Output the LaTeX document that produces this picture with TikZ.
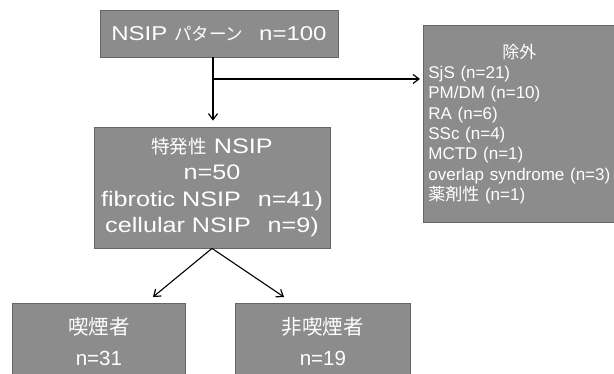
\documentclass[tikz,border=0pt]{standalone}
\usepackage{fontspec}
\setmainfont{Liberation Sans}
\newfontfamily\wide{Liberation Sans}[FakeStretch=1.2]
\newfontfamily\jp{Noto Sans CJK JP}
\usetikzlibrary{arrows.meta}
\definecolor{boxgray}{HTML}{8C8C8C}
\definecolor{boxedge}{HTML}{666666}
\begin{document}
\begin{tikzpicture}[x=1pt,y=-1pt,
  box/.style={draw=boxedge, line width=0.8pt, fill=boxgray, text=white, inner sep=0pt, align=center},
  arr/.style={-{Straight Barb[length=6pt,width=9pt,line width=1.2pt]}, line width=1.1pt, black}]
\useasboundingbox (0,0) rectangle (614,374);
\fill[white] (0,0) rectangle (614,374);

\node[box, minimum width=238pt, minimum height=47pt, font=\fontsize{20}{24}\wide]
  (top) at (219,33.5) {NSIP {\jp\fontsize{17.5}{24}\selectfont パターン}\hspace{0.8em}n=100};

\node[box, minimum width=236pt, minimum height=121pt, font=\fontsize{21}{26.5}\wide]
  (mid) at (212,187.5) {{\jp\fontsize{18.5}{26.5}\selectfont 特発性} NSIP\\n=50\\fibrotic NSIP\hspace{0.8em}n=41)\\cellular NSIP\hspace{0.8em}n=9)};

\node[box, anchor=north west, minimum width=198pt, minimum height=197pt, text width=188pt,
  align=left, inner xsep=5pt, font=\fontsize{17}{20.3}\selectfont]
  (excl) at (423,25) {\makebox[182pt]{\jp 除外}\\SjS (n=21)\\PM/DM (n=10)\\RA (n=6)\\SSc (n=4)\\MCTD (n=1)\\overlap syndrome (n=3)\\{\jp 薬剤性} (n=1)};

\node[box, anchor=north west, minimum width=173pt, minimum height=76pt, font=\fontsize{20.5}{31}\selectfont]
  (smk) at (12,303) {{\jp 喫煙者}\\n=31};
\node[box, anchor=north west, minimum width=175pt, minimum height=76pt, font=\fontsize{20.5}{31}\selectfont]
  (nsmk) at (235,303) {{\jp 非喫煙者}\\n=19};

\draw[arr, shorten >=6pt] ([xshift=-6pt]top.south) -- ([xshift=-6pt]top.south |- mid.north);
\coordinate (br) at (213,79);
\draw[arr, shorten >=3pt] (br) -- (br -| excl.west);
\coordinate (tipL) at (153,297);
\coordinate (tipR) at (284,297);
\draw[arr] (mid.south) -- (tipL);
\draw[arr] (mid.south) -- (tipR);
\end{tikzpicture}
\end{document}
